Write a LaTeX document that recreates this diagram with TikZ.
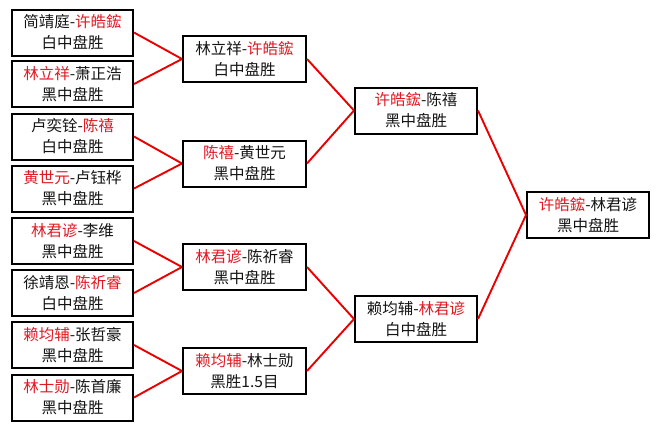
\documentclass[tikz,border=0pt]{standalone}
\usepackage{fontspec}
\setmainfont{Noto Sans CJK SC}
\definecolor{rd}{RGB}{225,25,35}
\definecolor{ln}{RGB}{235,0,0}
\definecolor{txt}{RGB}{20,20,20}
\newcommand{\rn}[1]{\textcolor{rd}{#1}}
\begin{document}
\begin{tikzpicture}[x=1pt,y=-1pt,
  box/.style={draw=black, line width=2pt, fill=white, text=txt,
    minimum width=121pt, minimum height=46pt, align=center,
    font=\fontsize{15.5}{21}\selectfont, inner sep=0pt},
  link/.style={draw=ln, line width=1.9pt}]
\useasboundingbox[fill=white] (0,0) rectangle (660,429);
% round 1
\node[box] (a1) at (72.5,32.5) {简靖庭-\rn{许皓鋐}\\白中盘胜};
\node[box] (a2) at (72.5,84) {\rn{林立祥}-萧正浩\\黑中盘胜};
\node[box] (a3) at (72.5,136.5) {卢奕铨-\rn{陈禧}\\白中盘胜};
\node[box] (a4) at (72.5,188.5) {\rn{黄世元}-卢钰桦\\黑中盘胜};
\node[box] (a5) at (72.5,241) {\rn{林君谚}-李维\\黑中盘胜};
\node[box] (a6) at (72.5,293) {徐靖恩-\rn{陈祈睿}\\白中盘胜};
\node[box] (a7) at (72.5,345) {\rn{赖均辅}-张哲豪\\黑中盘胜};
\node[box] (a8) at (72.5,397.5) {\rn{林士勋}-陈首廉\\黑中盘胜};
% round 2
\node[box, minimum width=123pt] (b1) at (244.5,59) {林立祥-\rn{许皓鋐}\\白中盘胜};
\node[box, minimum width=123pt] (b2) at (244.5,163.5) {\rn{陈禧}-黄世元\\黑中盘胜};
\node[box, minimum width=123pt] (b3) at (244.5,267) {\rn{林君谚}-陈祈睿\\黑中盘胜};
\node[box, minimum width=123pt] (b4) at (244.5,371) {\rn{赖均辅}-林士勋\\黑胜1.5目};
% round 3
\node[box, minimum width=122pt] (c1) at (416,110.5) {\rn{许皓鋐}-陈禧\\黑中盘胜};
\node[box, minimum width=122pt] (c2) at (416,319) {赖均辅-\rn{林君谚}\\白中盘胜};
% final
\node[box, minimum width=122pt] (d1) at (588,215) {\rn{许皓鋐}-林君谚\\黑中盘胜};
% links
\foreach \s/\t in {a1/b1,a2/b1,a3/b2,a4/b2,a5/b3,a6/b3,a7/b4,a8/b4,b1/c1,b2/c1,b3/c2,b4/c2,c1/d1,c2/d1}
  \draw[link] (\s.east) -- (\t.west);
\end{tikzpicture}
\end{document}
